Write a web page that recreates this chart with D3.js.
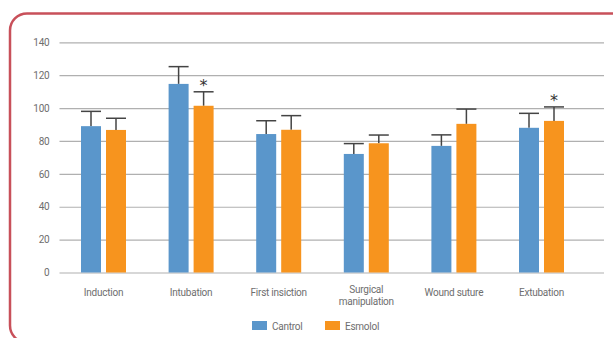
<!DOCTYPE html>
<html>
<head>
<meta charset="utf-8">
<script src="https://cdn.jsdelivr.net/npm/d3@7"></script>
<style>
  body { margin: 0; background: #fff; }
  svg text { font-family: "Liberation Sans Narrow", "Roboto", sans-serif; fill: #6e6e6e; }
</style>
</head>
<body>
<div id="chart"></div>
<script>
// data
const categories = ["Induction", "Intubation", "First insiction", "Surgical\nmanipulation", "Wound suture", "Extubation"];
const series = ["Cantrol", "Esmolol"];
const controlMean = [89, 114.7, 84.2, 72.1, 77, 88];
const controlErr  = [9, 10.5, 8.1, 6.3, 6.7, 8.8];
const esmololMean = [86.7, 101.4, 86.8, 78.6, 90.4, 92.2];
const esmololErr  = [7.1, 8.5, 8.6, 5, 9, 8.5];
const esmololStar = [false, true, false, false, false, true];
const yTicks = [0, 20, 40, 60, 80, 100, 120, 140];
const colors = ["#5a96cb", "#f7941e"];

const width = 613, height = 338;

const svg = d3.select("#chart")
    .append("svg")
        .attr("width", width)
        .attr("height", height);

// rounded frame, open to the right and bottom
svg.append("rect")
    .attr("x", 10)
    .attr("y", 13.5)
    .attr("width", 700)
    .attr("height", 329)
    .attr("rx", 17)
    .attr("fill", "none")
    .attr("stroke", "#c8505a")
    .attr("stroke-width", 2.5);

const plotLeft = 59.5, gridRight = 604;

const x0 = d3.scaleBand()
    .domain(categories)
    .range([59.7, 585.3]);

const x1 = d3.scaleBand()
    .domain(series)
    .range([x0.bandwidth() / 2 - 22.5, x0.bandwidth() / 2 + 22.5])
    .paddingInner(0.2);

const y = d3.scaleLinear()
    .domain([0, 140])
    .range([272.5, 42.3]);

// y axis with grid lines
const yAxis = svg.append("g")
    .attr("transform", `translate(${plotLeft},0)`)
    .call(d3.axisLeft(y)
        .tickValues(yTicks)
        .tickSize(-(gridRight - plotLeft))
        .tickPadding(10));
yAxis.select(".domain").remove();
yAxis.selectAll(".tick line")
    .attr("stroke", "#b0b0b0")
    .attr("stroke-width", 1.2);
yAxis.selectAll(".tick text")
    .style("font-size", "10px")
    .style("letter-spacing", "-0.2px")
    .style("fill", "#6e6e6e");

// rows for the bars
const rows = categories.map((c, i) => ({
    cat: c,
    vals: [
        {s: series[0], mean: controlMean[i], err: controlErr[i], star: false},
        {s: series[1], mean: esmololMean[i], err: esmololErr[i], star: esmololStar[i]}
    ]
}));

const groups = svg.append("g")
    .selectAll("g")
    .data(rows)
    .enter()
    .append("g")
        .attr("transform", d => `translate(${x0(d.cat)},0)`);

const bars = groups.selectAll("g.bar")
    .data(d => d.vals)
    .enter()
    .append("g")
        .attr("class", "bar");

// error bars first so the bar covers the stem
bars.append("line")
    .attr("x1", d => x1(d.s) + x1.bandwidth() / 2)
    .attr("x2", d => x1(d.s) + x1.bandwidth() / 2)
    .attr("y1", d => y(d.mean))
    .attr("y2", d => y(d.mean + d.err))
    .attr("stroke", "#444")
    .attr("stroke-width", 1.5);

bars.append("line")
    .attr("x1", d => x1(d.s))
    .attr("x2", d => x1(d.s) + x1.bandwidth())
    .attr("y1", d => y(d.mean + d.err))
    .attr("y2", d => y(d.mean + d.err))
    .attr("stroke", "#444")
    .attr("stroke-width", 1.5);

bars.append("rect")
    .attr("x", d => x1(d.s))
    .attr("y", d => y(d.mean))
    .attr("width", x1.bandwidth())
    .attr("height", d => y(0) - y(d.mean))
    .attr("fill", (d, i) => colors[i]);

bars.filter(d => d.star)
    .append("text")
    .attr("x", d => x1(d.s) + x1.bandwidth() / 2)
    .attr("y", d => y(d.mean + d.err) - 1)
    .attr("text-anchor", "middle")
    .style("font-family", "DejaVu Sans, sans-serif")
    .style("font-size", "16px")
    .style("fill", "#333")
    .text("*");

// category labels
const labels = svg.append("g")
    .selectAll("text")
    .data(categories)
    .enter()
    .append("text")
        .attr("x", d => x0(d) + x0.bandwidth() / 2)
        .attr("y", d => d.includes("\n") ? 292.5 : 295.5)
        .attr("text-anchor", "middle")
        .style("font-size", "10px")
        .style("letter-spacing", "-0.25px");

labels.selectAll("tspan")
    .data(d => d.split("\n"))
    .enter()
    .append("tspan")
        .attr("x", function () { return this.parentNode.getAttribute("x"); })
        .attr("dy", (d, i) => i ? 12 : 0)
        .text(d => d);

// legend
const legendX = [252, 325];
const legend = svg.append("g")
    .selectAll("g")
    .data(series)
    .enter()
    .append("g")
        .attr("transform", (d, i) => `translate(${legendX[i]},321)`);

legend.append("rect")
    .attr("width", 15)
    .attr("height", 9)
    .attr("fill", (d, i) => colors[i]);

legend.append("text")
    .attr("x", 20)
    .attr("y", 8.5)
    .style("font-size", "10px")
    .style("letter-spacing", "-0.25px")
    .text(d => d);
</script>
</body>
</html>
